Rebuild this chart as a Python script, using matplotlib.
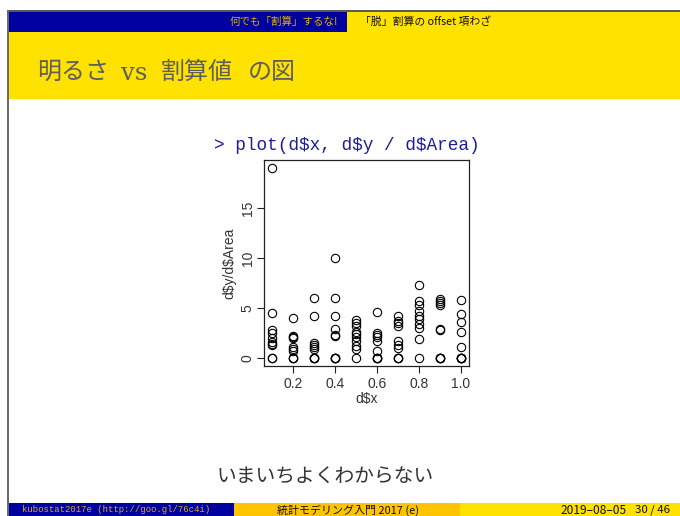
import matplotlib
matplotlib.use("Agg")
import matplotlib.pyplot as plt
from matplotlib.patches import Rectangle

plt.rcParams['font.family'] = ['Noto Sans CJK JP', 'DejaVu Sans']

# Observations: d$y / d$Area for each level of d$x
x_levels = [0.1, 0.2, 0.3, 0.4, 0.5, 0.6, 0.7, 0.8, 0.9, 1.0]
ratio_x01 = [19.0, 4.5, 2.8, 2.5, 2.0, 1.6, 1.4, 1.3, 0.0, 0.0]
ratio_x02 = [4.0, 2.2, 2.1, 2.0, 1.1, 0.9, 0.7, 0.0, 0.0, 0.0]
ratio_x03 = [6.0, 4.2, 1.5, 1.3, 1.1, 0.9, 0.0, 0.0, 0.0, 0.0]
ratio_x04 = [10.0, 6.0, 4.2, 2.9, 2.3, 2.2, 0.0, 0.0, 0.0, 0.0]
ratio_x05 = [3.8, 3.5, 3.2, 2.6, 2.4, 2.1, 1.7, 1.2, 0.9, 0.0]
ratio_x06 = [4.6, 2.5, 2.3, 2.1, 1.7, 0.7, 0.0, 0.0, 0.0, 0.0]
ratio_x07 = [4.2, 3.7, 3.5, 3.2, 1.7, 1.3, 1.0, 0.0, 0.0, 0.0]
ratio_x08 = [7.3, 5.7, 5.3, 4.7, 4.2, 3.9, 3.4, 3.0, 1.9, 0.0]
ratio_x09 = [5.9, 5.7, 5.5, 5.3, 2.9, 2.8, 0.0, 0.0, 0.0, 0.0]
ratio_x10 = [5.8, 4.4, 3.6, 2.6, 1.1, 0.0, 0.0, 0.0, 0.0, 0.0]
ratio_groups = [ratio_x01, ratio_x02, ratio_x03, ratio_x04, ratio_x05,
                ratio_x06, ratio_x07, ratio_x08, ratio_x09, ratio_x10]

x_ticks = [0.2, 0.4, 0.6, 0.8, 1.0]
x_tick_labels = ["0.2", "0.4", "0.6", "0.8", "1.0"]
y_ticks = [0, 5, 10, 15]
y_tick_labels = ["0", "5", "10", "15"]

W, H = 680, 516
fig = plt.figure(figsize=(W / 100, H / 100), dpi=100)
fig.patch.set_facecolor("white")


def fx(x):
    return x / W


def fy(y):
    return 1 - y / H


def rect(x0, y0, x1, y1, color, **kw):
    fig.patches.append(Rectangle((fx(x0), fy(y1)), fx(x1) - fx(x0), fy(y0) - fy(y1),
                                 transform=fig.transFigure, facecolor=color,
                                 edgecolor="none", **kw))


NAVY = "#0000A0"
YELLOW = "#FFE200"
GOLD = "#FFC400"
NAV_TEXT = "#E0B000"
TITLE = "#5e5e5e"
MONO = ["Liberation Mono", "DejaVu Sans Mono"]
SANS = ["Liberation Sans", "DejaVu Sans"]

# slide frame
rect(7, 10, 680, 11.5, "#5a5a5a")
rect(7, 10, 8.8, 516, "#6a6a6a")

# navigation bar
rect(8.8, 11.5, 347, 32, NAVY)
rect(347, 11.5, 680, 32, YELLOW)
fig.text(fx(338), fy(21.5), "何でも「割算」するな!", color=NAV_TEXT, fontsize=7.6,
         ha="right", va="center")
fig.text(fx(360), fy(21.5), "「脱」割算の offset 項わざ", color="#111111", fontsize=7.8,
         ha="left", va="center")

# title block: Japanese words with a roman "vs" between them
rect(8.8, 32, 680, 99, YELLOW)
fig.text(fx(37), fy(72), "明るさ", color=TITLE, fontsize=17.3, ha="left", va="center")
fig.text(fx(121), fy(73.5), "vs", color=TITLE, fontsize=17.5,
         family=["DejaVu Serif"], ha="left", va="center")
fig.text(fx(161), fy(72), "割算値", color=TITLE, fontsize=17.3, ha="left", va="center")
fig.text(fx(248), fy(72), "の図", color=TITLE, fontsize=17.3, ha="left", va="center")

# command line
fig.text(fx(347), fy(145), "> plot(d$x, d$y / d$Area)", color="#1c1c9c",
         fontsize=12.8, family=MONO, ha="center", va="center")

# scatter panel
ax = fig.add_axes([fx(264.4), fy(365.6), fx(468.6) - fx(264.4), fy(160.4) - fy(365.6)])
for xv, grp in zip(x_levels, ratio_groups):
    ax.plot([xv] * len(grp), grp, linestyle="none", marker="o", markersize=6,
            markerfacecolor="none", markeredgecolor="black", markeredgewidth=0.8)
ax.set_xlim(0.064, 1.036)
ax.set_ylim(-0.76, 19.76)
ax.set_xticks(x_ticks)
ax.set_xticklabels(x_tick_labels)
ax.set_yticks(y_ticks)
ax.set_yticklabels(y_tick_labels, rotation=90, va="center")
for s in ax.spines.values():
    s.set_linewidth(0.9)
    s.set_color("#222222")
ax.tick_params(direction="out", length=5, width=0.8, color="#222222",
               labelsize=10, labelcolor="#333333", pad=3)
ax.tick_params(axis="y", pad=2)
for lab in ax.get_xticklabels() + ax.get_yticklabels():
    lab.set_family(SANS)
ax.set_xlabel(r"d\$x", fontsize=10, color="#333333", family=SANS, labelpad=1)
ax.set_ylabel(r"d\$y/d\$Area", fontsize=10, color="#333333", family=SANS,
              labelpad=3)

# remark
fig.text(fx(325.5), fy(477), "いまいちよくわからない", color="#333333", fontsize=14.2,
         ha="center", va="center")

# footer
rect(8.8, 502.5, 234, 516, NAVY)
rect(234, 502.5, 460, 516, GOLD)
rect(460, 502.5, 680, 516, YELLOW)
fig.text(fx(21.5), fy(510), "kubostat2017e (http://goo.gl/76c4i)", color=NAV_TEXT,
         fontsize=6.5, family=MONO, ha="left", va="center")
fig.text(fx(348), fy(510), "統計モデリング入門 2017 (e)", color="#111111",
         fontsize=7.9, ha="center", va="center")
fig.text(fx(627), fy(510), "2019–08–05", color="#111111", fontsize=8.6,
         ha="right", va="center")
fig.text(fx(670), fy(510), "30 / 46", color="#111111", fontsize=8.2,
         ha="right", va="center")

fig.savefig("out.png", dpi=100)
